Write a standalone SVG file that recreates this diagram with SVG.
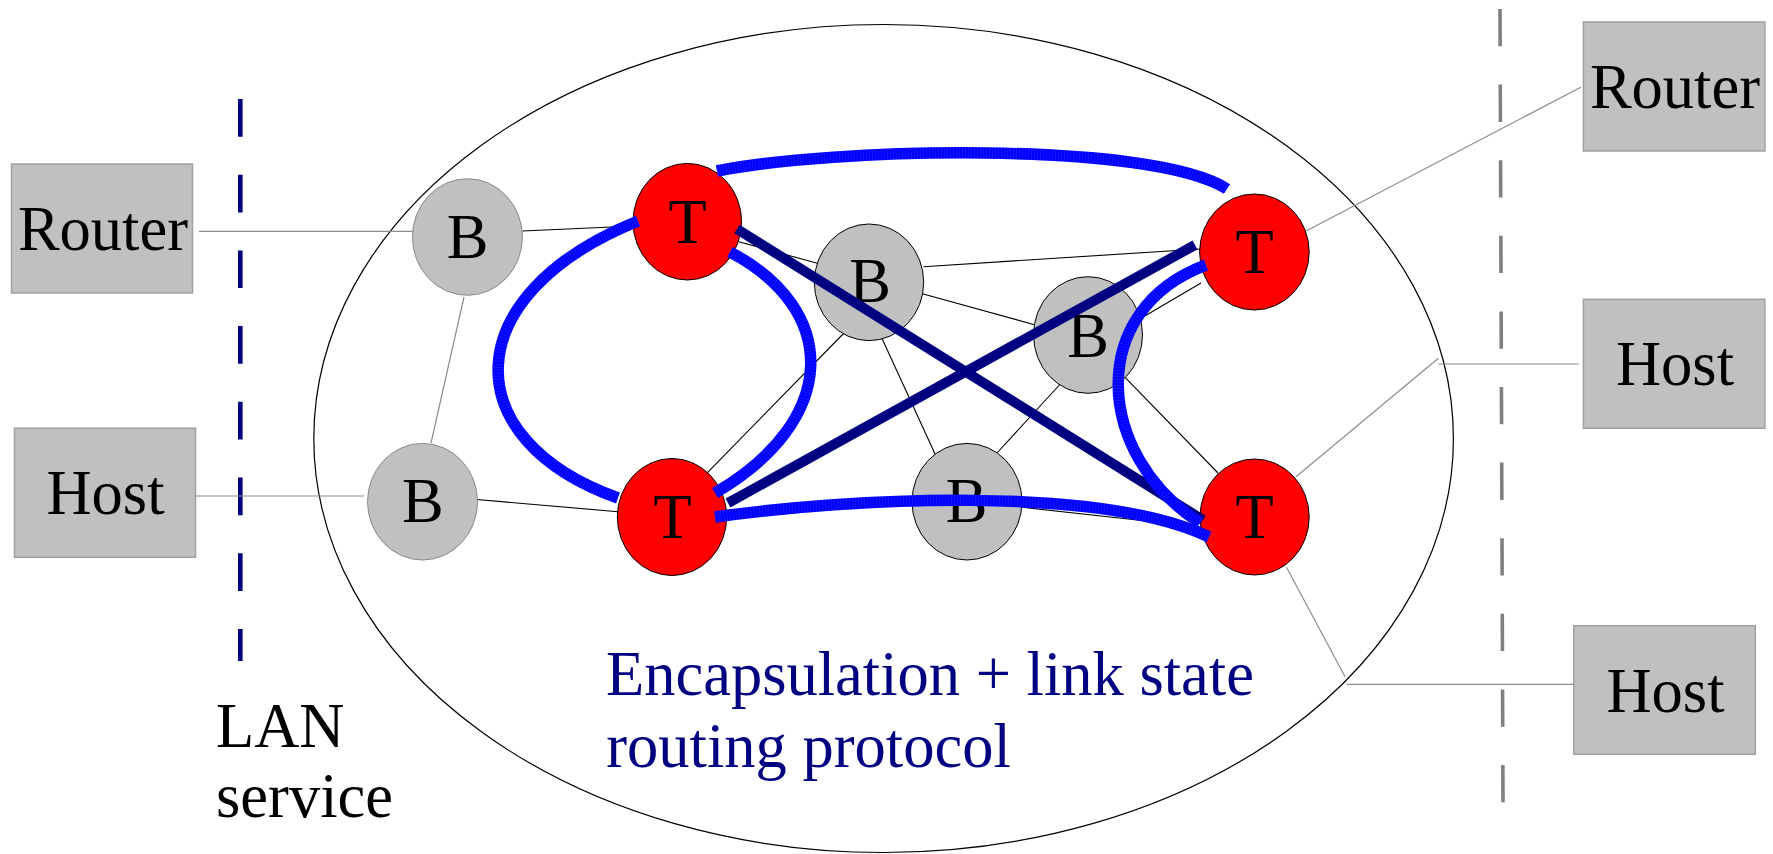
<svg xmlns="http://www.w3.org/2000/svg" width="1773" height="854" viewBox="0 0 1773 854">
  <style>
    .lbl { font-family: "Liberation Serif", "Times New Roman", serif; font-size: 62.5px; fill: #000; }
    .mid { text-anchor: middle; }
    .note { fill: #000080; }
    .box { fill: #c0c0c0; stroke: #a0a0a0; stroke-width: 1.5; }
    .bridge { fill: #c0c0c0; stroke: #000; stroke-width: 1; }
    .bridge-edge { fill: #c0c0c0; stroke: #8a8a8a; stroke-width: 1; }
    .trill { fill: #ff0000; stroke: #000; stroke-width: 1; }
    .link { stroke: #000; stroke-width: 1.1; fill: none; }
    .attach { stroke: #8c8c8c; stroke-width: 1.2; fill: none; }
    .direct { stroke: #000080; stroke-width: 10; fill: none; stroke-linecap: butt; }
    .tunnel { stroke: #0000ff; stroke-width: 11.5; fill: none; stroke-linecap: butt; }
    .tunnel-hatch { stroke: #3c3cff; stroke-width: 11.5; fill: none; stroke-dasharray: 0.8 2.2; opacity: 0.45; }
  </style>

  <!-- campus boundary -->
  <ellipse id="campus" cx="883.6" cy="438.5" rx="569.8" ry="414" fill="none" stroke="#000" stroke-width="1.2"/>

  <!-- service boundaries -->
  <line id="lan-boundary" x1="240.3" y1="99" x2="240.3" y2="661" stroke="#000080" stroke-width="4.6" stroke-dasharray="37.7 38"/>
  <line id="edge-boundary" x1="1500" y1="9" x2="1503" y2="803" stroke="#808080" stroke-width="3.6" stroke-dasharray="37.3 38.3"/>

  <!-- physical links -->
  <g id="connectors">
    <line class="attach" x1="199" y1="231.3" x2="419" y2="231.3"/>
    <line class="attach" x1="193" y1="496" x2="364" y2="496"/>
    <line class="attach" x1="464" y1="297" x2="431" y2="443"/>
    <line class="attach" x1="1306.5" y1="230.7" x2="1580.7" y2="87.3"/>
    <line class="attach" x1="1296" y1="476.7" x2="1438.4" y2="358.3"/>
    <line class="attach" x1="1438.4" y1="364" x2="1578.8" y2="364"/>
    <line class="attach" x1="1286.5" y1="567.3" x2="1345" y2="676.7"/>
    <line class="attach" x1="1346.9" y1="684.3" x2="1573" y2="684.3"/>

    <line class="link" x1="522.3" y1="231" x2="634" y2="226"/>
    <line class="link" x1="473.7" y1="499.3" x2="618" y2="511.7"/>
    <line class="link" x1="738.8" y1="241.7" x2="817.3" y2="263.3"/>
    <line class="link" x1="923.6" y1="266.7" x2="1200" y2="249"/>
    <line class="link" x1="918.7" y1="292.7" x2="1035.4" y2="325"/>
    <line class="link" x1="845" y1="332" x2="706.7" y2="473.3"/>
    <line class="link" x1="880.4" y1="335" x2="937.8" y2="460"/>
    <line class="link" x1="1064" y1="380" x2="997" y2="453"/>
    <line class="link" x1="1125.3" y1="377.7" x2="1218" y2="473"/>
    <line class="link" x1="1138" y1="320" x2="1201" y2="283"/>
    <line class="link" x1="1022" y1="507.3" x2="1201" y2="527"/>
  </g>

  <!-- end stations and routers -->
  <g id="router-left">
    <rect class="box" x="11.5" y="164" width="181" height="129"/>
    <text class="lbl mid" x="103" y="250">Router</text>
  </g>
  <g id="host-left">
    <rect class="box" x="14.5" y="428.3" width="181" height="129"/>
    <text class="lbl mid" x="105.5" y="514.3">Host</text>
  </g>
  <g id="router-right">
    <rect class="box" x="1583.4" y="22" width="181.5" height="129"/>
    <text class="lbl mid" x="1675" y="108">Router</text>
  </g>
  <g id="host-right-1">
    <rect class="box" x="1583.4" y="299.3" width="181.5" height="129"/>
    <text class="lbl mid" x="1675" y="385">Host</text>
  </g>
  <g id="host-right-2">
    <rect class="box" x="1573.8" y="625.7" width="181.5" height="128.6"/>
    <text class="lbl mid" x="1665.5" y="711.7">Host</text>
  </g>

  <!-- bridges -->
  <g id="bridge-1">
    <ellipse class="bridge-edge" cx="467.4" cy="237" rx="55" ry="58.3"/>
    <text class="lbl mid" x="467.6" y="258.3">B</text>
  </g>
  <g id="bridge-2">
    <ellipse class="bridge-edge" cx="422.5" cy="501.7" rx="55" ry="58.3"/>
    <text class="lbl mid" x="422.8" y="521.7">B</text>
  </g>
  <g id="bridge-3">
    <ellipse class="bridge" cx="869" cy="282.3" rx="54.7" ry="58.3"/>
    <text class="lbl mid" x="870" y="301.7">B</text>
  </g>
  <g id="bridge-4">
    <ellipse class="bridge" cx="1088" cy="335" rx="54.5" ry="58.3"/>
    <text class="lbl mid" x="1088.2" y="356.7">B</text>
  </g>
  <g id="bridge-5">
    <ellipse class="bridge" cx="967" cy="501.7" rx="55" ry="58.3"/>
    <text class="lbl mid" x="966.5" y="521.7">B</text>
  </g>

  <!-- TRILL switches -->
  <g id="trill-1">
    <ellipse class="trill" cx="687.3" cy="221.7" rx="54.3" ry="58.3"/>
    <text class="lbl mid" x="687.5" y="243.3">T</text>
  </g>
  <g id="trill-2">
    <ellipse class="trill" cx="1254.4" cy="252" rx="54.8" ry="58"/>
    <text class="lbl mid" x="1254.6" y="273">T</text>
  </g>
  <g id="trill-3">
    <ellipse class="trill" cx="672" cy="517" rx="54.7" ry="58.5"/>
    <text class="lbl mid" x="672.5" y="538.3">T</text>
  </g>
  <g id="trill-4">
    <ellipse class="trill" cx="1254.6" cy="517" rx="54.6" ry="58"/>
    <text class="lbl mid" x="1254.6" y="538.3">T</text>
  </g>

  <!-- adjacencies between switches -->
  <g id="adjacencies">
    <line class="direct" x1="737" y1="229" x2="1203" y2="520"/>
    <line class="direct" x1="728" y1="503" x2="1195" y2="245"/>

    <path id="tun-top" class="tunnel" d="M 717 171 C 830 148, 1150 140, 1227 189"/>
    <path id="tun-left" class="tunnel" d="M 638 221 C 455 295, 455 440, 618 498"/>
    <path id="tun-inner" class="tunnel" d="M 730 252 C 840 310, 840 420, 715 493"/>
    <path id="tun-bottom" class="tunnel" d="M 715 517 C 850 498, 1100 485, 1209 537"/>
    <path id="tun-right" class="tunnel" d="M 1206 265 C 1085 310, 1095 455, 1200 523"/>

    <path class="tunnel-hatch" d="M 717 171 C 830 148, 1150 140, 1227 189"/>
    <path class="tunnel-hatch" d="M 638 221 C 455 295, 455 440, 618 498"/>
    <path class="tunnel-hatch" d="M 730 252 C 840 310, 840 420, 715 493"/>
    <path class="tunnel-hatch" d="M 715 517 C 850 498, 1100 485, 1209 537"/>
    <path class="tunnel-hatch" d="M 1206 265 C 1085 310, 1095 455, 1200 523"/>
  </g>

  <!-- captions -->
  <g id="lan-caption">
    <text class="lbl" x="216" y="746.7">LAN</text>
    <text class="lbl" x="216" y="816.7">service</text>
  </g>
  <g id="protocol-caption">
    <text class="lbl note" x="606" y="695">Encapsulation + link state</text>
    <text class="lbl note" x="606.3" y="766.7">routing protocol</text>
  </g>
</svg>
